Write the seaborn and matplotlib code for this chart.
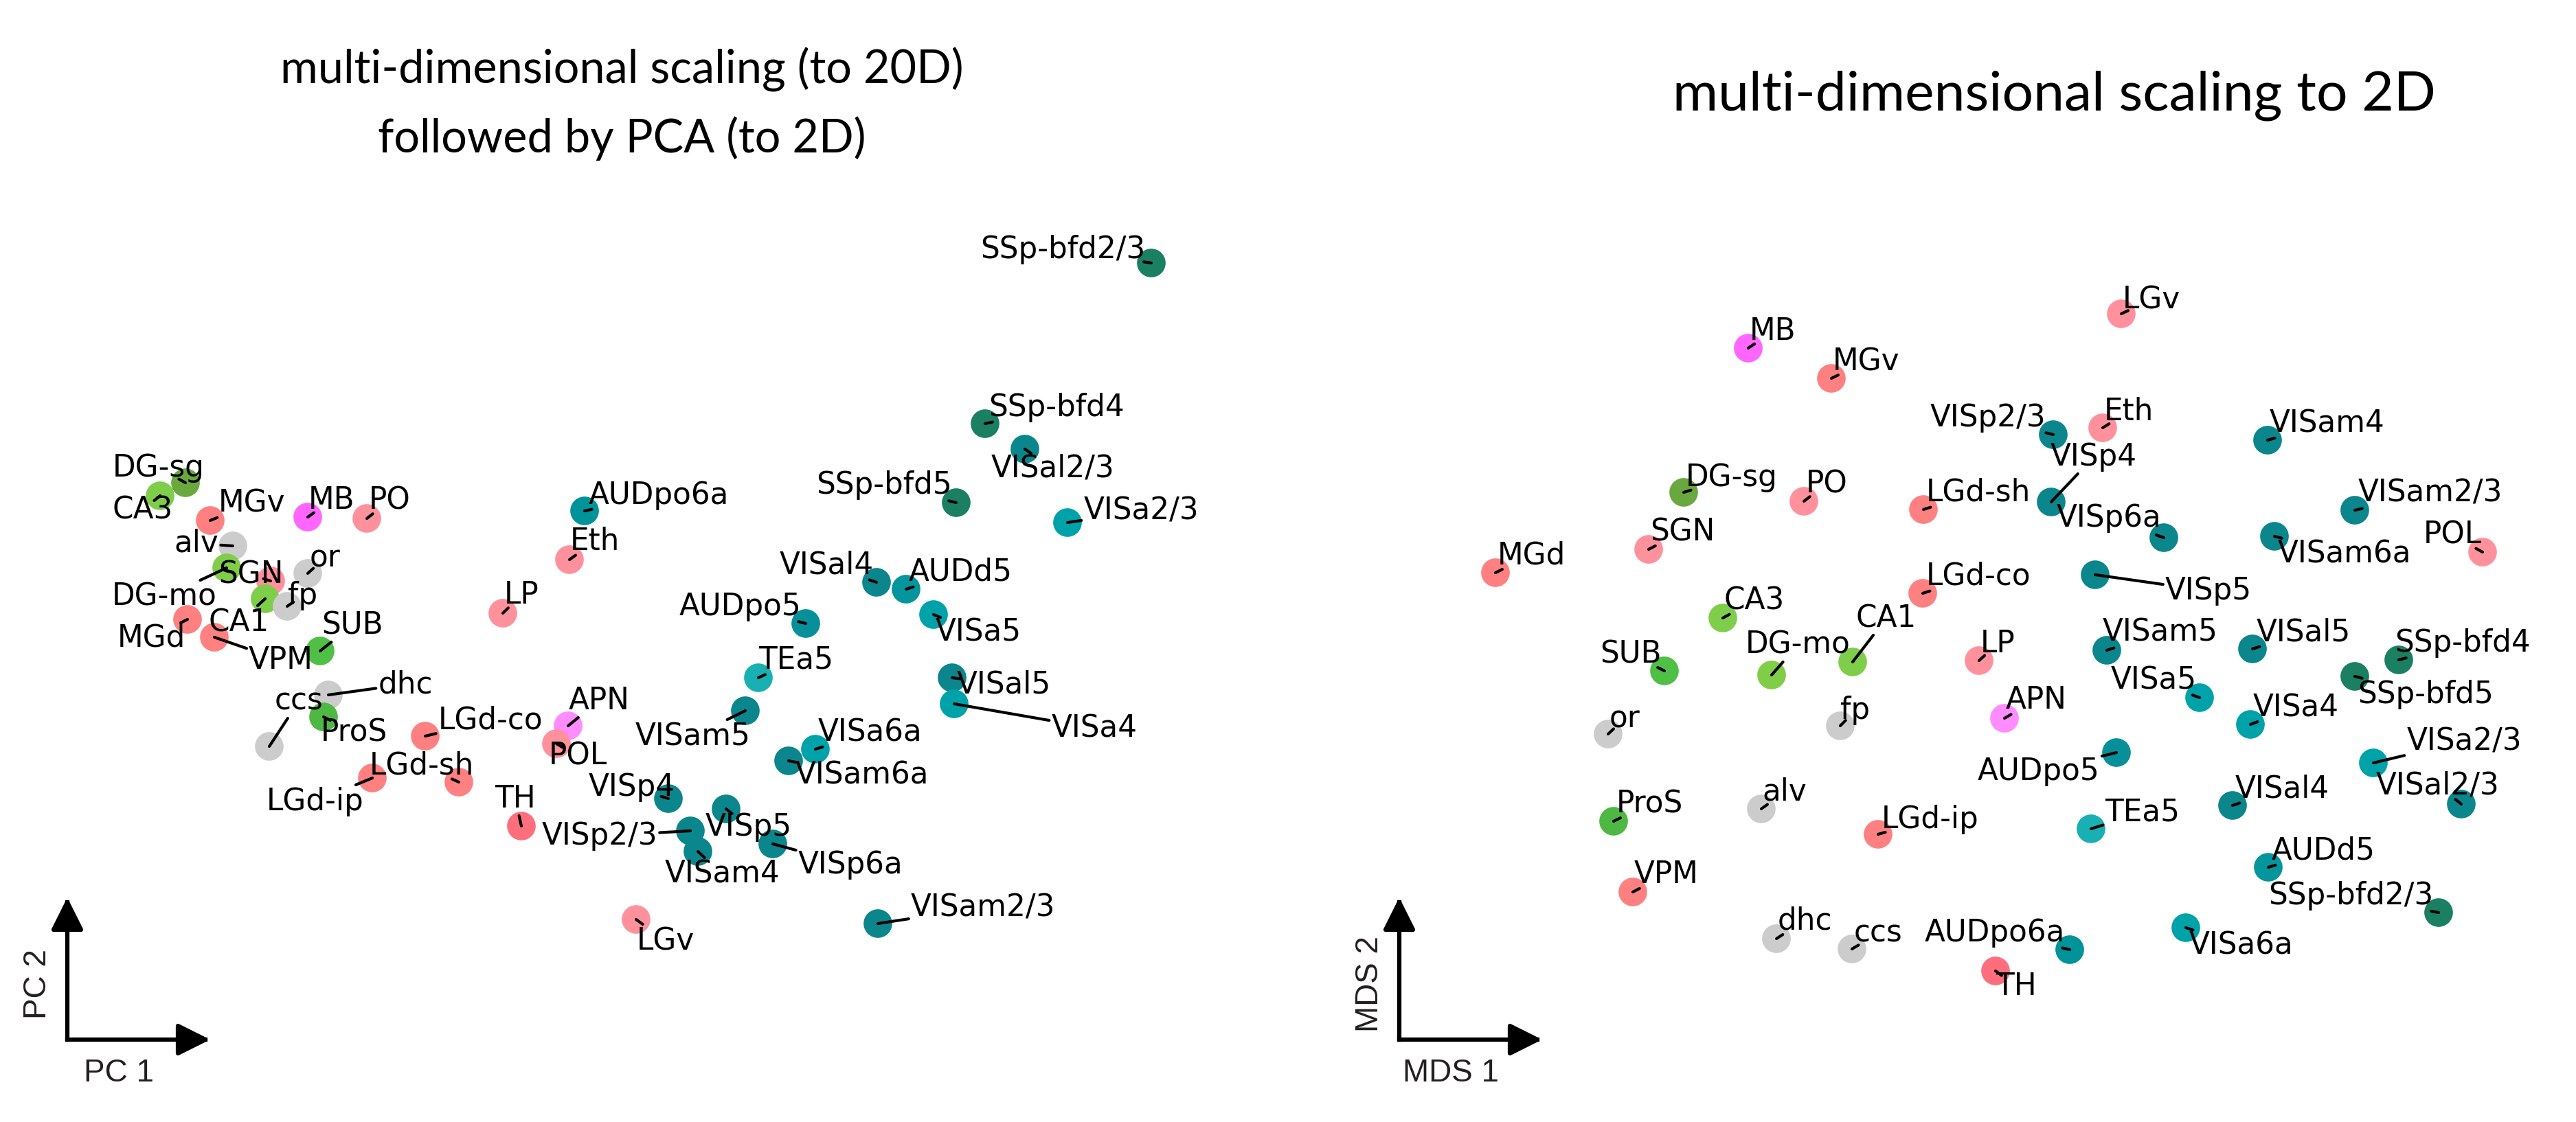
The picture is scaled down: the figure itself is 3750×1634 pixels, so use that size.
import pandas as pd
import seaborn as sns
import matplotlib.pyplot as plt
from matplotlib.patches import FancyArrowPatch

# ---- data ----
# left: MDS to 20D then PCA to 2D
regions_pca = ['DG-sg', 'CA3', 'MGv', 'MB', 'PO', 'alv', 'DG-mo', 'SGN', 'or', 'CA1',
               'fp', 'MGd', 'VPM', 'SUB', 'dhc', 'ccs', 'ProS', 'LGd-co', 'LGd-sh', 'LGd-ip',
               'APN', 'POL', 'TH', 'LGv', 'AUDpo6a', 'Eth', 'LP', 'SSp-bfd2/3', 'SSp-bfd4',
               'VISal2/3', 'SSp-bfd5', 'VISa2/3', 'VISal4', 'AUDd5', 'VISa5', 'AUDpo5', 'TEa5',
               'VISal5', 'VISa4', 'VISam5', 'VISa6a', 'VISam6a', 'VISp4', 'VISp5', 'VISp2/3',
               'VISam4', 'VISp6a', 'VISam2/3']
pc1 = [-6.80, -7.17, -6.44, -5.02, -4.16, -6.11, -6.20, -5.56, -5.02, -5.64,
       -5.32, -6.77, -6.38, -4.84, -4.72, -5.58, -4.79, -3.31, -2.82, -4.08,
       -1.23, -1.40, -1.91, -0.24, -0.99, -1.21, -2.18, 7.26, 4.84,
       5.42, 4.42, 6.04, 3.26, 3.69, 4.09, 2.23, 1.54,
       4.36, 4.39, 1.35, 2.37, 1.98, 0.23, 1.07, 0.55,
       0.66, 1.75, 3.28]
pc2 = [1.97, 1.78, 1.42, 1.47, 1.45, 1.05, 0.73, 0.54, 0.65, 0.28,
       0.17, -0.02, -0.28, -0.48, -1.12, -1.87, -1.44, -1.72, -2.39, -2.33,
       -1.57, -1.83, -3.03, -4.39, 1.56, 0.85, 0.07, 5.17, 2.83,
       2.46, 1.68, 1.39, 0.52, 0.42, 0.05, -0.08, -0.87,
       -0.87, -1.25, -1.35, -1.91, -2.08, -2.63, -2.78, -3.10,
       -3.40, -3.29, -4.45]

# right: MDS straight to 2D
regions_mds = ['MB', 'MGv', 'VISp2/3', 'DG-sg', 'PO', 'LGd-sh', 'VISp4', 'SGN', 'MGd', 'LGd-co',
               'CA3', 'LGv', 'Eth', 'VISam4', 'VISp6a', 'VISam2/3', 'VISam6a', 'POL', 'VISp5',
               'LP', 'VISam5', 'VISal5', 'SSp-bfd4', 'SUB', 'DG-mo', 'CA1', 'or', 'fp', 'APN',
               'ProS', 'alv', 'LGd-ip', 'VPM', 'dhc', 'ccs', 'TH', 'SSp-bfd5', 'VISa5', 'VISa4',
               'VISa2/3', 'AUDpo5', 'VISal4', 'VISal2/3', 'TEa5', 'AUDd5', 'SSp-bfd2/3',
               'VISa6a', 'AUDpo6a']
mds1 = [-3.55, -2.34, 0.89, -4.49, -2.74, -1.00, 0.86, -5.00, -7.23, -1.01,
        -3.92, 1.88, 1.61, 4.01, 2.50, 5.28, 4.11, 7.14, 1.50,
        -0.19, 1.67, 3.79, 5.92, -4.77, -3.21, -2.03, -5.59, -2.21, 0.18,
        -5.51, -3.36, -1.66, -5.23, -3.14, -2.04, 0.05, 5.28, 3.02, 3.76,
        5.55, 1.81, 3.50, 6.83, 1.44, 4.02, 6.50,
        2.82, 1.13]
mds2 = [3.93, 3.49, 2.67, 1.83, 1.70, 1.58, 1.69, 1.00, 0.66, 0.36,
        0.00, 4.43, 2.77, 2.59, 1.17, 1.57, 1.19, 0.96, 0.63,
        -0.62, -0.47, -0.45, -0.61, -0.77, -0.83, -0.64, -1.69, -1.57, -1.46,
        -2.96, -2.78, -3.15, -3.99, -4.67, -4.82, -5.14, -0.85, -1.16, -1.55,
        -2.11, -1.96, -2.73, -2.71, -3.07, -3.63, -4.29,
        -4.51, -4.83]

# ---- styling ----
salmon, pink = '#ff8080', '#ff919d'
colors = {'MGv': salmon, 'MGd': salmon, 'VPM': salmon, 'LGd-co': salmon, 'LGd-sh': salmon,
          'LGd-ip': salmon, 'TH': '#ff6e7c',
          'PO': pink, 'SGN': pink, 'Eth': pink, 'LP': pink, 'POL': pink, 'LGv': pink,
          'MB': '#ff66ff', 'APN': '#ff8cff',
          'CA3': '#7fce4b', 'CA1': '#7fce4b', 'DG-mo': '#80cd48', 'DG-sg': '#69a83f',
          'SUB': '#4fbf45', 'ProS': '#4fb845',
          'alv': '#cccccc', 'or': '#cccccc', 'fp': '#cccccc', 'dhc': '#cccccc', 'ccs': '#cccccc',
          'AUDpo6a': '#00939a', 'AUDpo5': '#07909a', 'AUDd5': '#05959c', 'TEa5': '#18b0b3',
          'SSp-bfd2/3': '#1b7f62', 'SSp-bfd4': '#1b7f62', 'SSp-bfd5': '#1b7f62'}
for r in regions_pca:
    if r.startswith('VISa') and not r.startswith(('VISam', 'VISal')):
        colors[r] = '#00a2aa'
    elif r.startswith('VIS'):
        colors[r] = '#0b868c'

# label position relative to the dot, in image pixels (right, down)
offs_pca = {'DG-sg': (-39, -26), 'CA3': (-25, 16), 'MGv': (60, -29), 'MB': (35, -29),
            'PO': (33, -30), 'alv': (-53, -8), 'DG-mo': (-91, 38), 'SGN': (-29, -13),
            'or': (25, -27), 'CA1': (-38, 30), 'fp': (23, -20), 'MGd': (-53, 22),
            'VPM': (97, 29), 'SUB': (47, -42), 'dhc': (112, -20), 'ccs': (43, -70),
            'ProS': (44, 18), 'LGd-co': (95, -27), 'LGd-sh': (-54, -29), 'LGd-ip': (-83, 30),
            'APN': (45, -41), 'POL': (31, 14), 'TH': (-9, -44), 'LGv': (43, 27),
            'AUDpo6a': (108, -27), 'Eth': (37, -31), 'LP': (27, -31), 'SSp-bfd2/3': (-129, -24),
            'SSp-bfd4': (104, -28), 'VISal2/3': (41, 24), 'SSp-bfd5': (-105, -30),
            'VISa2/3': (107, -21), 'VISal4': (-73, -29), 'AUDd5': (79, -29), 'VISa5': (65, 22),
            'AUDpo5': (-95, -29), 'TEa5': (55, -30), 'VISal5': (75, 5), 'VISa4': (204, 31),
            'VISam5': (-76, 33), 'VISa6a': (80, -29), 'VISam6a': (107, 16), 'VISp4': (-53, -21),
            'VISp5': (33, 22), 'VISp2/3': (-132, 3), 'VISam4': (36, 29), 'VISp6a': (113, 26),
            'VISam2/3': (153, -28)}
offs_mds = {'MB': (36, -29), 'MGv': (51, -29), 'VISp2/3': (-95, -29), 'DG-sg': (70, -26),
            'PO': (33, -30), 'LGd-sh': (80, -30), 'VISp4': (62, -70), 'SGN': (49, -30),
            'MGd': (52, -30), 'LGd-co': (81, -30), 'CA3': (46, -30), 'LGv': (44, -25),
            'Eth': (38, -28), 'VISam4': (87, -29), 'VISp6a': (-80, -33), 'VISam2/3': (110, -29),
            'VISam6a': (102, 22), 'POL': (-44, -29), 'VISp5': (165, 19), 'LP': (27, -29),
            'VISam5': (78, -30), 'VISal5': (74, -28), 'SSp-bfd4': (93, -29), 'SUB': (-49, -29),
            'DG-mo': (38, -48), 'CA1': (49, -68), 'or': (24, -27), 'fp': (22, -27),
            'APN': (46, -31), 'ProS': (52, -30), 'alv': (34, -29), 'LGd-ip': (76, -26),
            'VPM': (49, -30), 'dhc': (41, -31), 'ccs': (38, -27), 'TH': (30, 18),
            'SSp-bfd5': (103, 22), 'VISa5': (-67, -29), 'VISa4': (66, -29), 'VISa2/3': (132, -36),
            'AUDpo5': (-113, 23), 'VISal4': (72, -29), 'VISal2/3': (-34, -32), 'TEa5': (75, -28),
            'AUDd5': (80, -28), 'SSp-bfd2/3': (-128, -29), 'VISa6a': (81, 22),
            'AUDpo6a': (-109, -29)}

sns.set_theme(style='white', context='paper')
plt.rcParams['font.family'] = ['DejaVu Sans']

W, H, DPI = 3750, 1634, 300
fig = plt.figure(figsize=(W / DPI, H / DPI), dpi=DPI)
ax1 = fig.add_axes([0, 0, 0.5, 1])
ax2 = fig.add_axes([0.5, 0, 0.5, 1])
px2pt = 72 / DPI


def draw(ax, names, xs, ys, offs):
    df = pd.DataFrame({'x': xs, 'y': ys, 'region': names})
    sns.scatterplot(data=df, x='x', y='y', hue='region', palette=colors, s=100,
                    linewidth=0, legend=False, ax=ax, zorder=1)
    items = []
    for n, x, y in zip(names, xs, ys):
        dx, dy = offs[n]
        t = ax.annotate(n, (x, y), xytext=(dx * px2pt, -dy * px2pt), textcoords='offset points',
                        ha='center', va='center_baseline', fontsize=10.5, color='black',
                        zorder=3)
        items.append((t, x, y))
    ax.set_axis_off()
    return items


items1 = draw(ax1, regions_pca, pc1, pc2, offs_pca)
items2 = draw(ax2, regions_mds, mds1, mds2, offs_mds)
# 100 image pixels per unit
ax1.set_xlim(-9.5, 9.25)
ax1.set_ylim(-7.34, 9.0)
ax2.set_xlim(-10.25, 8.5)
ax2.set_ylim(-7.34, 9.0)

# leader lines: from the edge of each label box to the centre of its dot,
# never shorter than a small tick so it shows inside the dot
fig.canvas.draw()
rend = fig.canvas.get_renderer()
pad, min_len = 3, 11
for ax, items in [(ax1, items1), (ax2, items2)]:
    inv = ax.transData.inverted()
    for t, x, y in items:
        bb = t.get_window_extent(rend)
        px, py = ax.transData.transform((x, y))
        cx, cy = (bb.x0 + bb.x1) / 2, (bb.y0 + bb.y1) / 2
        hw, hh = bb.width / 2 + pad, bb.height / 2 + pad
        dx, dy = px - cx, py - cy
        dist = (dx ** 2 + dy ** 2) ** 0.5
        if abs(dx) <= hw and abs(dy) <= hh:
            s = 1 - min_len / dist
        else:
            s = min(hw / abs(dx) if dx else 1e9, hh / abs(dy) if dy else 1e9)
            s = min(s, 1 - min_len / dist)
        (a, b), (c, d) = inv.transform([(cx + s * dx, cy + s * dy), (px, py)])
        ax.plot([a, c], [b, d], color='black', lw=1.0, zorder=2, solid_capstyle='round')


def corner_axes(x0, xlab, ylab):
    # small L-shaped axis arrows in the lower left of each panel
    y0 = 1 - 1514 / H
    ytop = 1 - 1307 / H
    xr = x0 + 208 / W
    for end in [(x0, ytop), (xr, y0)]:
        fig.add_artist(FancyArrowPatch(
            (x0, y0), end, transform=fig.transFigure, arrowstyle='-|>',
            mutation_scale=24, lw=1.5, color='black', shrinkA=0, shrinkB=0,
            capstyle='projecting'))
    lab = dict(family=['Liberation Sans', 'DejaVu Sans'], fontsize=11, color='#231f20')
    fig.text(x0 + 75 / W, 1 - 1563 / H, xlab, ha='center', va='center', **lab)
    fig.text(x0 - 43 / W, 1 - 1433 / H, ylab, ha='center', va='center', rotation=90, **lab)


corner_axes(98 / W, 'PC 1', 'PC 2')
corner_axes(2037 / W, 'MDS 1', 'MDS 2')

tfont = dict(family=['Lato', 'DejaVu Sans'], color='black', ha='center', va='baseline')
fig.text(905 / W, 1 - 122 / H, 'multi-dimensional scaling (to 20D)', fontsize=16, **tfont)
fig.text(905 / W, 1 - 222 / H, 'followed by PCA (to 2D)', fontsize=16, **tfont)
fig.text(2990 / W, 1 - 160 / H, 'multi-dimensional scaling to 2D', fontsize=19.3, **tfont)

fig.savefig('out.png', dpi=DPI)
